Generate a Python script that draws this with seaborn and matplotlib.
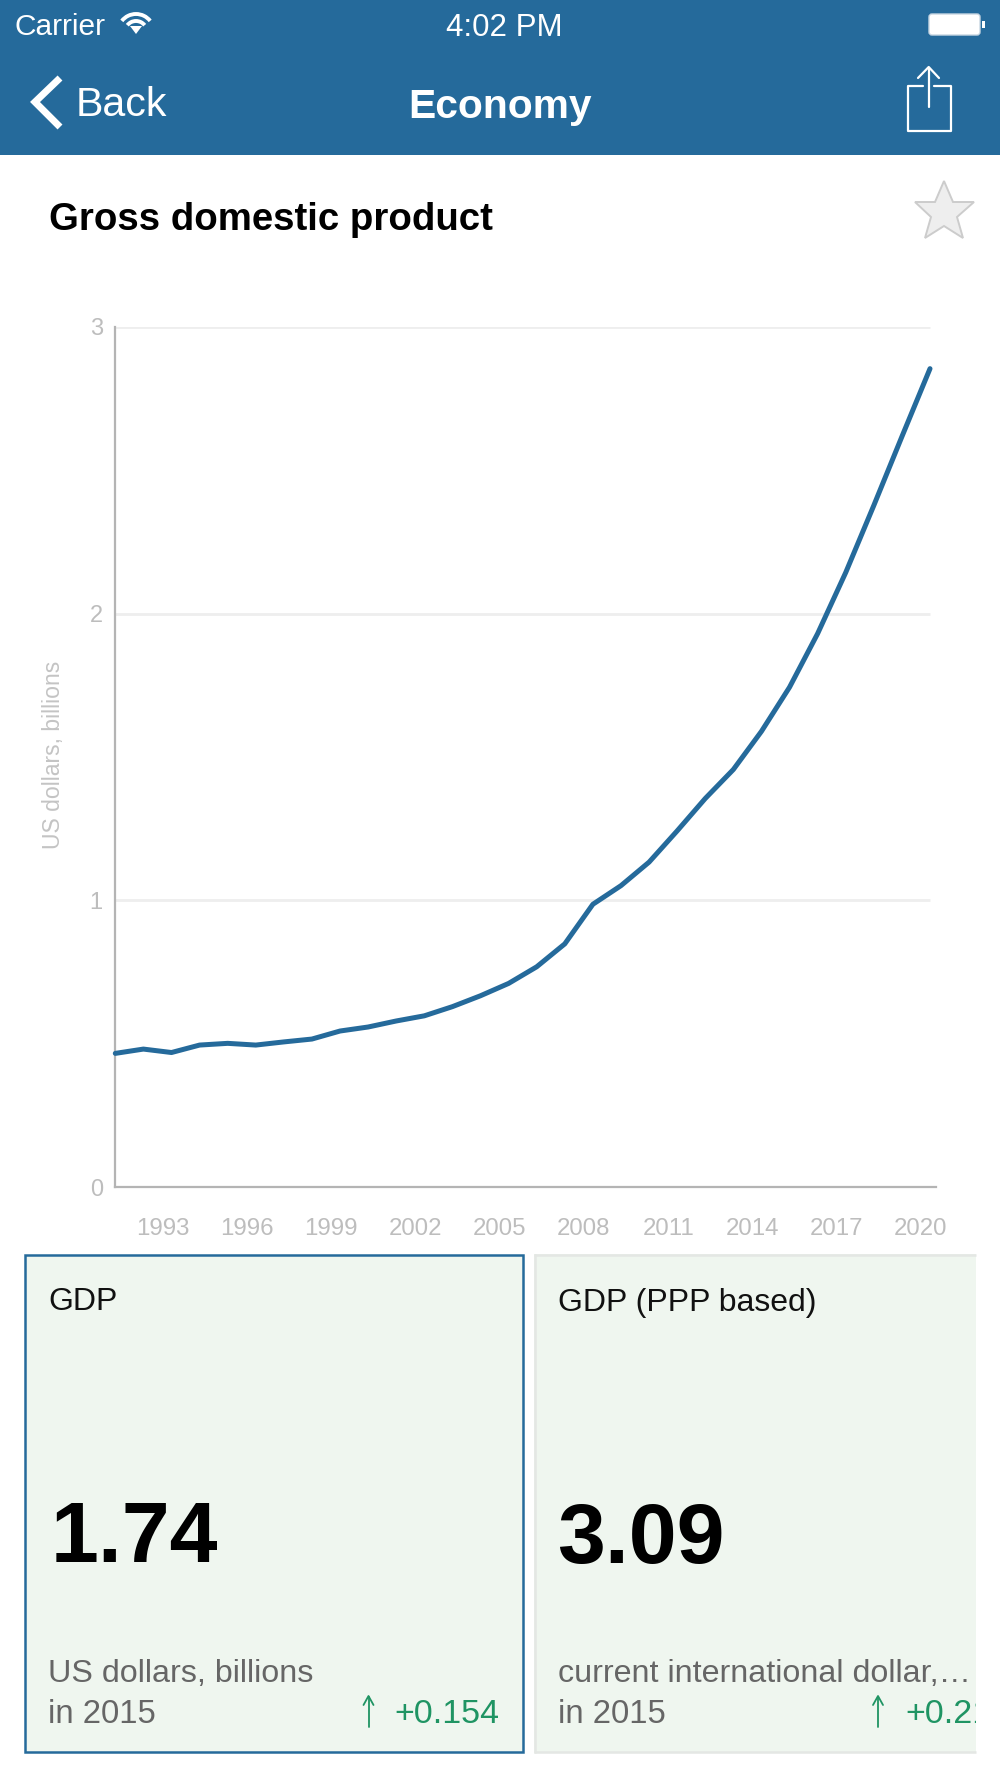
import matplotlib
matplotlib.use("Agg")
import matplotlib.pyplot as plt
from matplotlib.patches import Rectangle, FancyBboxPatch, Polygon, Arc
from matplotlib.transforms import ScaledTranslation
import pandas as pd
import seaborn as sns

# values
years = list(range(1991, 2021))
gdp = [0.466, 0.481, 0.469, 0.495, 0.501, 0.495, 0.506, 0.516, 0.544, 0.558,
       0.579, 0.597, 0.629, 0.667, 0.710, 0.768, 0.848, 0.986, 1.051, 1.133,
       1.242, 1.355, 1.456, 1.589, 1.743, 1.930, 2.143, 2.377, 2.617, 2.854]
year_ticks = [1993, 1996, 1999, 2002, 2005, 2008, 2011, 2014, 2017, 2020]
y_ticks = [0, 1, 2, 3]

BLUE = "#256a9b"
CARD = "#eff6ef"
GREEN = "#1f9463"
W, H = 1000, 1778

sns.set_theme(style="white")
plt.rcParams["font.family"] = ["Liberation Sans", "DejaVu Sans"]

fig = plt.figure(figsize=(W / 100, H / 100), dpi=100, facecolor="white")

# whole screen in pixel coordinates, for the app chrome
ui = fig.add_axes([0, 0, 1, 1])
ui.set_xlim(0, W)
ui.set_ylim(H, 0)
ui.axis("off")

# header bar
ui.add_patch(Rectangle((0, 0), W, 155, color=BLUE, lw=0))
ui.text(15, 35, "Carrier", color="white", fontsize=21.5, va="baseline")
ui.text(504, 35.5, "4:02 PM", color="white", fontsize=22.5, ha="center", va="baseline")
ui.text(76, 116, "Back", color="white", fontsize=29.6, va="baseline")
ui.text(500, 118, "Economy", color="white", fontsize=29.3, fontweight="bold", ha="center", va="baseline")

# wifi icon
for d in [36, 22]:
    ui.add_patch(Arc((136, 32), d, d, theta1=218, theta2=322, color="white", lw=2.8))
ui.add_patch(Polygon([(130, 26), (142, 26), (136, 34)], color="white", lw=0))

# battery
ui.add_patch(FancyBboxPatch((929, 14), 51, 21, boxstyle="round,pad=0,rounding_size=3",
                            fc="white", ec="#c8d6e2", lw=1))
ui.add_patch(Rectangle((982, 21), 2.5, 7, color="white", lw=0))

# back chevron
ui.plot([60, 35, 60], [78, 102, 127], color="white", lw=5, solid_joinstyle="miter", solid_capstyle="butt")

# share icon
ui.plot([923, 907.5, 907.5, 951, 951, 934], [86, 86, 131, 131, 86, 86], color="white", lw=1.6)
ui.plot([928.7, 928.7], [107, 68], color="white", lw=1.6)
ui.plot([918, 928.7, 939], [78, 67, 78], color="white", lw=1.6)

# title and star
ui.text(49, 229.5, "Gross domestic product", color="black", fontsize=27.6, fontweight="bold", va="baseline")
ui.add_patch(Polygon([(944, 181), (953, 202), (974, 202), (957, 217), (963, 238),
                      (944, 226), (925, 238), (931, 217), (915, 202), (935, 202)],
                     fc="#eeeeee", ec="#cccccc", lw=1.4, joinstyle="miter"))

# cards
ui.add_patch(Rectangle((25, 1255), 497.5, 497, fc=CARD, ec=BLUE, lw=1.8))
card2 = Rectangle((534, 1254), 442, 499, fc=CARD, lw=0)
ui.add_patch(card2)
ui.plot([534, 976], [1255, 1255], color="#e4e7e4", lw=1.8, solid_capstyle="butt")
ui.plot([534, 976], [1752, 1752], color="#e4e7e4", lw=1.8, solid_capstyle="butt")
ui.plot([535, 535], [1254, 1753], color="#e4e7e4", lw=1.8, solid_capstyle="butt")


def card_text(x, head, value, value_x, unit, change, arrow_x, change_x):
    ui.text(x, 1310.5, head, color="#111111", fontsize=23, va="baseline")
    ui.text(value_x, 1562.5, value, color="black", fontsize=62, fontweight="bold", va="baseline")
    ui.text(x, 1682.5, unit, color="#666666", fontsize=23.2, va="baseline", clip_on=True, clip_path=card2)
    ui.text(x, 1723, "in 2015", color="#666666", fontsize=23.7, va="baseline")
    ui.plot([arrow_x, arrow_x], [1697, 1727], color=GREEN, lw=1.3)
    ui.plot([arrow_x - 5, arrow_x, arrow_x + 5], [1705, 1696, 1705], color=GREEN, lw=1.3)
    c = ui.text(change_x, 1723, change, color=GREEN, fontsize=24.5, va="baseline")
    if x > 500:
        c.set_clip_on(True)
        c.set_clip_path(card2)


card_text(48.5, "GDP", "1.74", 50.5, "US dollars, billions", "+0.154", 368.5, 394.5)
card_text(558.5, "GDP (PPP based)", "3.09", 557, "current international dollar,…", "+0.21", 878, 905)

# the chart itself
left, right, top, bottom = 115.3, 936, 326.8, 1187
ax = fig.add_axes([left / W, 1 - bottom / H, (right - left) / W, (bottom - top) / H])
ax.patch.set_alpha(0)

df = pd.DataFrame({"year": years, "gdp": gdp})
ax.hlines(y_ticks[1:], years[0], years[-1], color="#eeeeee", lw=2, zorder=1)
sns.lineplot(data=df, x="year", y="gdp", ax=ax, color=BLUE, lw=3.6, zorder=3, clip_on=False)

ax.set_xlim(years[0], years[-1] + 6 / 28.09)
ax.set_ylim(0, 3)
ax.set_xticks(year_ticks)
ax.set_xticklabels([str(y) for y in year_ticks])
ax.set_yticks(y_ticks)
ax.set_xlabel("")
ax.set_ylabel("US dollars, billions", color="#c4c4c4", fontsize=16.6)
ax.yaxis.set_label_coords((65.5 - left) / (right - left), 0.502)
ax.tick_params(axis="x", length=0, pad=22, labelsize=17.3, labelcolor="#bdbdbd")
ax.tick_params(axis="y", length=0, pad=9, labelsize=17, labelcolor="#bdbdbd")

# year labels sit a little left of their points
shift = ScaledTranslation(-9 / 100, 0, fig.dpi_scale_trans)
for lab in ax.get_xticklabels():
    lab.set_transform(lab.get_transform() + shift)

for side in ["top", "right"]:
    ax.spines[side].set_visible(False)
for side in ["left", "bottom"]:
    ax.spines[side].set_color("#b4b4b4")
    ax.spines[side].set_linewidth(1.6)

fig.savefig("out.png", dpi=100)
